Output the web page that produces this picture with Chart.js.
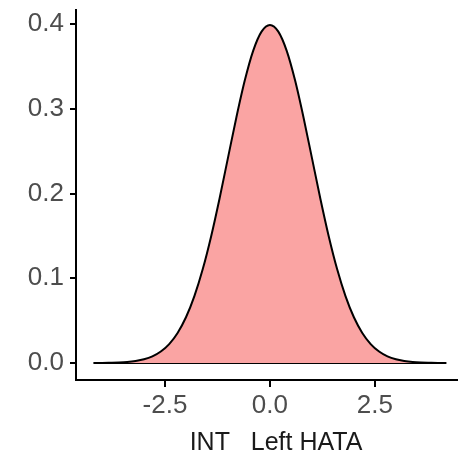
<!DOCTYPE html>
<html>
<head>
<meta charset="utf-8">
<script src="https://cdn.jsdelivr.net/npm/chart.js@4.4.0/dist/chart.umd.min.js"></script>
<style>
  html, body { margin: 0; padding: 0; background: #ffffff; }
  #wrap { width: 458px; height: 456px; }
</style>
</head>
<body>
<div id="wrap"><canvas id="densChart" width="458" height="456"></canvas></div>
<script>
// Density of INT Left HATA
const xValues = [-4.2, -4.0, -3.8, -3.6, -3.4, -3.2, -3.0, -2.8, -2.6, -2.4, -2.2, -2.0, -1.8, -1.6, -1.4, -1.2, -1.0, -0.8, -0.6, -0.4, -0.2,
  0.0, 0.2, 0.4, 0.6, 0.8, 1.0, 1.2, 1.4, 1.6, 1.8, 2.0, 2.2, 2.4, 2.6, 2.8, 3.0, 3.2, 3.4, 3.6, 3.8, 4.0, 4.2];
const density = [0.0001, 0.0001, 0.0003, 0.0006, 0.0012, 0.0024, 0.0044, 0.0079, 0.0136, 0.0224, 0.0355, 0.0540, 0.0790, 0.1109, 0.1497, 0.1942, 0.2420, 0.2897, 0.3332, 0.3683, 0.3910,
  0.3989, 0.3910, 0.3683, 0.3332, 0.2897, 0.2420, 0.1942, 0.1497, 0.1109, 0.0790, 0.0540, 0.0355, 0.0224, 0.0136, 0.0079, 0.0044, 0.0024, 0.0012, 0.0006, 0.0003, 0.0001, 0.0001];
const xTicks = [-2.5, 0.0, 2.5];
const yTicks = [0.0, 0.1, 0.2, 0.3, 0.4];
const xTitle = 'INT   Left HATA';

const curve = xValues.map((x, i) => ({ x: x, y: density[i] }));
const baseline = [{ x: xValues[0], y: 0 }, { x: xValues[xValues.length - 1], y: 0 }];

// x title sits a bit right of the visible panel centre in the reference
const xTitlePlugin = {
  id: 'xTitle',
  afterDraw(chart) {
    const c = chart.ctx;
    const area = chart.chartArea;
    c.save();
    c.font = '25px "Liberation Sans", Arial';
    c.fillStyle = '#1a1a1a';
    c.textAlign = 'center';
    c.textBaseline = 'alphabetic';
    c.fillText(xTitle, (area.left + area.right) / 2 + 9, 450);
    c.restore();
  }
};

const ctx = document.getElementById('densChart').getContext('2d');
new Chart(ctx, {
  type: 'line',
  data: {
    datasets: [{
      data: curve,
      borderColor: '#000000',
      borderWidth: 2,
      backgroundColor: 'rgb(250,164,163)',
      fill: 'origin',
      tension: 0.4,
      cubicInterpolationMode: 'monotone',
      pointRadius: 0
    }, {
      data: baseline,
      borderColor: '#000000',
      borderWidth: 2,
      fill: false,
      pointRadius: 0
    }]
  },
  plugins: [xTitlePlugin],
  options: {
    responsive: false,
    animation: false,
    layout: { padding: { top: 10, right: 0, left: 0, bottom: 0 } },
    plugins: { legend: { display: false }, tooltip: { enabled: false } },
    scales: {
      x: {
        type: 'linear',
        min: -4.62,
        max: 4.48,
        afterBuildTicks: s => { s.ticks = xTicks.map(v => ({ value: v })); },
        afterFit: s => { s.height = 76; s.paddingLeft = 0; s.paddingRight = 0; },
        ticks: {
          color: '#4d4d4d',
          font: { family: 'Liberation Sans, Arial', size: 26 },
          padding: 3,
          maxRotation: 0,
          callback: v => v.toFixed(1)
        },
        grid: { display: true, drawOnChartArea: false, drawTicks: true, tickLength: 7, color: '#000000', lineWidth: 2 },
        border: { display: true, color: '#000000', width: 2 },
        title: { display: false }
      },
      y: {
        min: -0.02,
        max: 0.4165,
        afterBuildTicks: s => { s.ticks = yTicks.map(v => ({ value: v })); },
        afterFit: s => { s.width = 76; s.paddingTop = 0; s.paddingBottom = 0; },
        ticks: {
          color: '#4d4d4d',
          font: { family: 'Liberation Sans, Arial', size: 26 },
          padding: 6,
          callback: v => v.toFixed(1)
        },
        grid: { display: true, drawOnChartArea: false, drawTicks: true, tickLength: 6, color: '#000000', lineWidth: 2 },
        border: { display: true, color: '#000000', width: 2 }
      }
    }
  }
});
</script>
</body>
</html>
